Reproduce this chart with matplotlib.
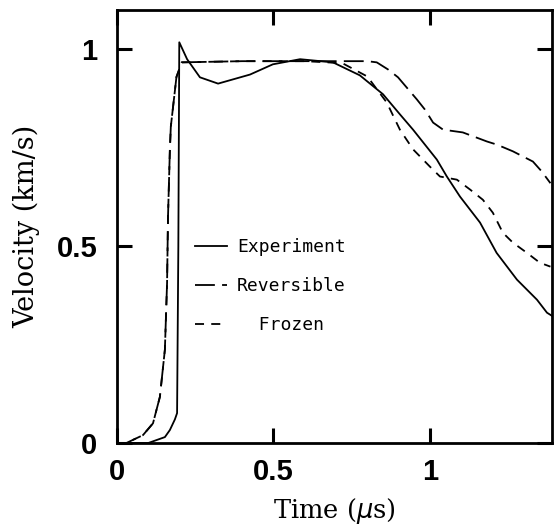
import matplotlib
matplotlib.use("Agg")
import matplotlib.pyplot as plt
import numpy as np

# Experiment (solid)
exp_t = [0.0, 0.10, 0.153, 0.169, 0.185, 0.192, 0.196, 0.199, 0.224, 0.265, 0.323, 0.425, 0.498,
         0.585, 0.69, 0.776, 0.85, 0.904, 0.946, 1.022, 1.054, 1.096, 1.16, 1.213, 1.278,
         1.342, 1.374, 1.39]
exp_v = [0.0, 0.0, 0.015, 0.033, 0.06, 0.076, 0.5, 1.018, 0.975, 0.929, 0.913, 0.936, 0.962,
         0.975, 0.967, 0.934, 0.886, 0.835, 0.796, 0.72, 0.677, 0.626, 0.56, 0.483, 0.415,
         0.364, 0.331, 0.323]

# Reversible (long dashes)
rev_t = [0.0, 0.03, 0.083, 0.115, 0.137, 0.153, 0.16, 0.163, 0.169, 0.172, 0.19, 0.207, 0.4,
         0.6, 0.8, 0.83, 0.866, 0.898, 0.958, 0.984, 1.01, 1.042, 1.105, 1.182, 1.214,
         1.265, 1.329, 1.357, 1.385]
rev_v = [0.0, 0.0, 0.02, 0.05, 0.117, 0.237, 0.407, 0.575, 0.746, 0.804, 0.93, 0.967, 0.97,
         0.97, 0.97, 0.967, 0.949, 0.929, 0.873, 0.847, 0.814, 0.796, 0.789, 0.766, 0.758,
         0.741, 0.715, 0.69, 0.66]

# Frozen (short dashes)
fro_t = [0.0, 0.03, 0.083, 0.115, 0.137, 0.153, 0.16, 0.163, 0.169, 0.172, 0.19, 0.207, 0.4,
         0.6, 0.72, 0.8, 0.862, 0.904, 0.946, 1.0, 1.032, 1.086, 1.128, 1.169, 1.201, 1.233,
         1.265, 1.31, 1.351, 1.385]
fro_v = [0.0, 0.0, 0.02, 0.05, 0.117, 0.237, 0.407, 0.575, 0.746, 0.804, 0.93, 0.967, 0.97,
         0.97, 0.965, 0.931, 0.865, 0.796, 0.746, 0.702, 0.677, 0.669, 0.644, 0.618, 0.585,
         0.534, 0.509, 0.483, 0.458, 0.448]

xticks = [0, 0.5, 1]
xtick_labels = ["0", "0.5", "1"]
yticks = [0, 0.5, 1]
ytick_labels = ["0", "0.5", "1"]
labels = ["Experiment", "Reversible", "  Frozen"]

fig = plt.figure(figsize=(5.56, 5.28), dpi=100)
ax = fig.add_axes([117/556, 85/528, 435/556, 433/528])

lw = 1.3
l1, = ax.plot(exp_t, exp_v, color="black", lw=lw, linestyle="-")
l2, = ax.plot(rev_t, rev_v, color="black", lw=lw, linestyle=(0, (11, 4)))
l3, = ax.plot(fro_t, fro_v, color="black", lw=lw, linestyle=(0, (5, 4)))

ax.set_xlim(0, 1.39)
ax.set_ylim(0, 1.1)
ax.set_xticks(xticks)
ax.set_xticklabels(xtick_labels)
ax.set_yticks(yticks)
ax.set_yticklabels(ytick_labels)

for s in ax.spines.values():
    s.set_linewidth(2.0)

ax.tick_params(direction="in", length=10.5, width=2.2, top=True, right=True,
               labelsize=21, pad=11)
ax.tick_params(axis="y", pad=14)
for lab in ax.get_xticklabels() + ax.get_yticklabels():
    lab.set_fontfamily("Liberation Sans")
    lab.set_fontweight("bold")

plt.rcParams["mathtext.fontset"] = "dejavuserif"
ax.set_xlabel(r"Time ($\mu$s)", fontsize=18.5, family="DejaVu Serif", labelpad=7)
ax.set_ylabel("Velocity (km/s)", fontsize=19.5, family="DejaVu Serif", labelpad=12)

leg = ax.legend([l1, l2, l3], labels, loc="upper left",
                bbox_to_anchor=(0.143, 0.51), frameon=False,
                prop={"family": "DejaVu Sans Mono", "size": 13},
                handlelength=1.75, handletextpad=0.55, labelspacing=1.15)

fig.savefig("out.png", dpi=100)
